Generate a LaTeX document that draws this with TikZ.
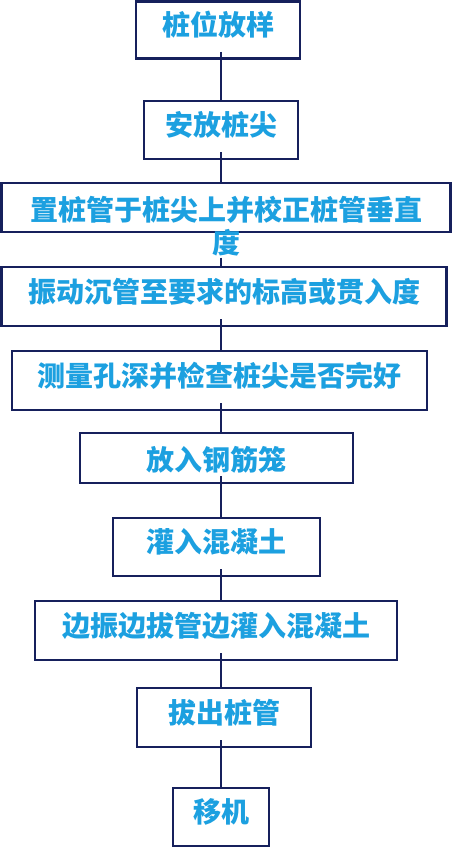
\documentclass[tikz,border=0pt]{standalone}
\usepackage{fontspec}
\newfontfamily\cjk{Noto Sans CJK SC}
\usepackage{tikz}
\definecolor{box_navy}{RGB}{22,32,92}
\definecolor{text_cyan}{RGB}{28,160,224}

\begin{document}
\begin{tikzpicture}[x=1pt,y=-1pt,line width=2.6pt]
    \tikzstyle{stepbox}=[draw=box_navy, rectangle, inner sep=0pt, fill=white, text=text_cyan,
        font=\cjk\bfseries\fontsize{28pt}{34pt}\selectfont, text height=22pt, text depth=11pt]
    \tikzstyle{short}=[text height=27pt, text depth=2pt]
    \tikzstyle{link}=[draw=box_navy, line width=2.4pt]
    \useasboundingbox (0,0) rectangle (452,848);
    \coordinate (spine) at (221,0);

    \node[stepbox, minimum width=164pt, minimum height=57pt] (a) at (218,30)    {桩位放样};
    \node[stepbox, minimum width=154pt, minimum height=58pt] (b) at (221,130)   {安放桩尖};
    \node[stepbox, short, minimum width=449pt, minimum height=49pt] (c) at (226,207.5) {置桩管于桩尖上并校正桩管垂直};
    \node[text=text_cyan, inner sep=0pt, font=\cjk\bfseries\fontsize{28pt}{34pt}\selectfont] (c_tail) at (226,243) {度};
    \node[stepbox, minimum width=445pt, minimum height=59pt] (d) at (224,296.5) {振动沉管至要求的标高或贯入度};
    \node[stepbox, minimum width=415pt, minimum height=59pt] (e) at (219.5,380.5) {测量孔深并检查桩尖是否完好};
    \node[stepbox, short, minimum width=273pt, minimum height=50pt] (f) at (216.5,458) {放入钢筋笼};
    \node[stepbox, minimum width=207pt, minimum height=58pt] (g) at (216.5,547) {灌入混凝土};
    \node[stepbox, minimum width=362pt, minimum height=59pt] (h) at (216,630.5) {边振边拔管边灌入混凝土};
    \node[stepbox, minimum width=174pt, minimum height=59pt] (i) at (224,717.5) {拔出桩管};
    \node[stepbox, minimum width=96pt, minimum height=58pt] (j) at (221,817)   {移机};

    % connectors start a little inside the upper box
    \path[link] (a.south -| spine) ++(0,-8) -- (b.north -| spine);
    \path[link] (b.south -| spine) ++(0,-8) -- (c.north -| spine);
    \path[link] (c_tail.south -| spine) -- (d.north -| spine);
    \path[link] (d.south -| spine) ++(0,-8) -- (e.north -| spine);
    \path[link] (e.south -| spine) ++(0,-8) -- (f.north -| spine);
    \path[link] (f.south -| spine) ++(0,-8) -- (g.north -| spine);
    \path[link] (g.south -| spine) ++(0,-8) -- (h.north -| spine);
    \path[link] (h.south -| spine) ++(0,-8) -- (i.north -| spine);
    \path[link] (i.south -| spine) ++(0,-8) -- (j.north -| spine);
  \end{tikzpicture}
\end{document}
